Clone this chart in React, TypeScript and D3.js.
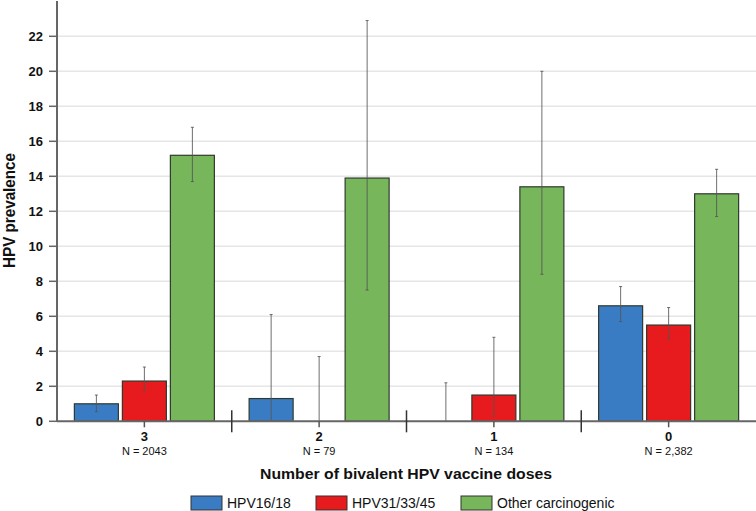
import React from "react";
import * as d3 from "d3";

const categories = ["3", "2", "1", "0"];
const nLabels = ["N = 2043", "N = 79", "N = 134", "N = 2,382"];
const seriesNames = ["HPV16/18", "HPV31/33/45", "Other carcinogenic"];
const seriesColors = ["#3a7cc4", "#e71a1d", "#77b65b"];

const hpv1618 = [1.0, 1.3, 0, 6.6];
const hpv1618Lo = [0.55, 0, 0, 5.7];
const hpv1618Hi = [1.5, 6.1, 2.2, 7.7];

const hpv313345 = [2.3, 0, 1.5, 5.5];
const hpv313345Lo = [1.75, 0, 0.3, 4.7];
const hpv313345Hi = [3.1, 3.7, 4.8, 6.5];

const otherCarc = [15.2, 13.9, 13.4, 13.0];
const otherCarcLo = [13.7, 7.5, 8.4, 11.7];
const otherCarcHi = [16.8, 22.9, 20.0, 14.4];

const yTicks = [0, 2, 4, 6, 8, 10, 12, 14, 16, 18, 20, 22];

const values = [hpv1618, hpv313345, otherCarc];
const lows = [hpv1618Lo, hpv313345Lo, otherCarcLo];
const highs = [hpv1618Hi, hpv313345Hi, otherCarcHi];

const W = 756;
const H = 511;
const font = "Arial, 'Liberation Sans', sans-serif";

export default function App() {
  const x0 = d3.scaleBand<string>().domain(categories).range([57, 756]).padding(0);
  const bw = x0.bandwidth();
  const x1 = d3
    .scaleBand<string>()
    .domain(seriesNames)
    .range([bw / 2 - 72, bw / 2 + 72])
    .paddingInner(4 / 48)
    .paddingOuter(2 / 48);
  const y = d3.scaleLinear().domain([0, 24]).range([421.3, 1.3]);
  const y0 = y(0);

  const legendItems = [
    { x: 191, name: seriesNames[0], color: seriesColors[0] },
    { x: 316, name: seriesNames[1], color: seriesColors[1] },
    { x: 461, name: seriesNames[2], color: seriesColors[2] },
  ];

  return (
    <svg
      width={W}
      height={H}
      style={{ position: "absolute", left: 0, top: 0, background: "#fff" }}
      fontFamily={font}
    >
      {/* gridlines */}
      {yTicks.filter((t) => t > 0).map((t) => (
        <line key={"g" + t} x1={57} x2={756} y1={y(t)} y2={y(t)} stroke="#e6e6e6" strokeWidth={1.5} />
      ))}

      {/* bars */}
      {categories.map((c, ci) => (
        <g key={"c" + c} transform={`translate(${x0(c)},0)`}>
          {seriesNames.map((s, si) => {
            const v = values[si][ci];
            const bx = x1(s)!;
            const bwid = x1.bandwidth();
            return v > 0 ? (
              <rect
                key={s}
                x={bx}
                y={y(v)}
                width={bwid}
                height={y0 - y(v)}
                fill={seriesColors[si]}
                stroke="#2f3a2f"
                strokeWidth={1.2}
              />
            ) : null;
          })}
          {seriesNames.map((s, si) => {
            const cx = x1(s)! + x1.bandwidth() / 2;
            const lo = lows[si][ci];
            const hi = highs[si][ci];
            return (
              <g key={"e" + s} stroke="#555" strokeOpacity={0.85} strokeWidth={1}>
                <line x1={cx} x2={cx} y1={y(lo)} y2={y(hi)} />
                <line x1={cx - 1.5} x2={cx + 1.5} y1={y(hi)} y2={y(hi)} />
                {lo > 0 && <line x1={cx - 1.5} x2={cx + 1.5} y1={y(lo)} y2={y(lo)} />}
              </g>
            );
          })}
        </g>
      ))}

      {/* y axis */}
      <line x1={57} x2={57} y1={1} y2={y0} stroke="#666" strokeWidth={2} />
      {yTicks.map((t) => (
        <g key={"t" + t}>
          <line x1={49} x2={57} y1={y(t)} y2={y(t)} stroke="#666" strokeWidth={1.5} />
          <text
            x={43}
            y={y(t)}
            dy="0.35em"
            textAnchor="end"
            fontSize={13}
            fontWeight="bold"
            fill="#111"
          >
            {t}
          </text>
        </g>
      ))}

      {/* x axis */}
      <line x1={57} x2={756} y1={y0} y2={y0} stroke="#666" strokeWidth={2} />
      {categories.map((c, ci) => {
        const cx = x0(c)! + bw / 2;
        return (
          <g key={"xl" + c}>
            <line x1={cx} x2={cx} y1={y0} y2={y0 + 6} stroke="#555" strokeWidth={1.5} />
            <text x={cx} y={441} textAnchor="middle" fontSize={13} fontWeight="bold" fill="#111">
              {c}
            </text>
            <text x={cx} y={455} textAnchor="middle" fontSize={11} fill="#111">
              {nLabels[ci]}
            </text>
            {ci > 0 && (
              <line
                x1={x0(c)!}
                x2={x0(c)!}
                y1={y0 - 11}
                y2={y0 + 11}
                stroke="#333"
                strokeWidth={1.5}
              />
            )}
          </g>
        );
      })}

      {/* axis titles */}
      <text
        x={406}
        y={479}
        textAnchor="middle"
        fontSize={14}
        fontWeight="bold"
        fill="#111"
        textLength={292}
        lengthAdjust="spacingAndGlyphs"
      >
        Number of bivalent HPV vaccine doses
      </text>
      <text
        transform={`translate(15,210.5) rotate(-90)`}
        textAnchor="middle"
        fontSize={17}
        fontWeight="bold"
        fill="#111"
        textLength={115}
        lengthAdjust="spacingAndGlyphs"
      >
        HPV prevalence
      </text>

      {/* legend */}
      {legendItems.map((it) => (
        <g key={"lg" + it.name}>
          <rect x={it.x} y={496} width={31} height={14} fill={it.color} stroke="#333" strokeWidth={1} />
          <text x={it.x + 36} y={508} fontSize={14} fill="#111">
            {it.name}
          </text>
        </g>
      ))}
    </svg>
  );
}
